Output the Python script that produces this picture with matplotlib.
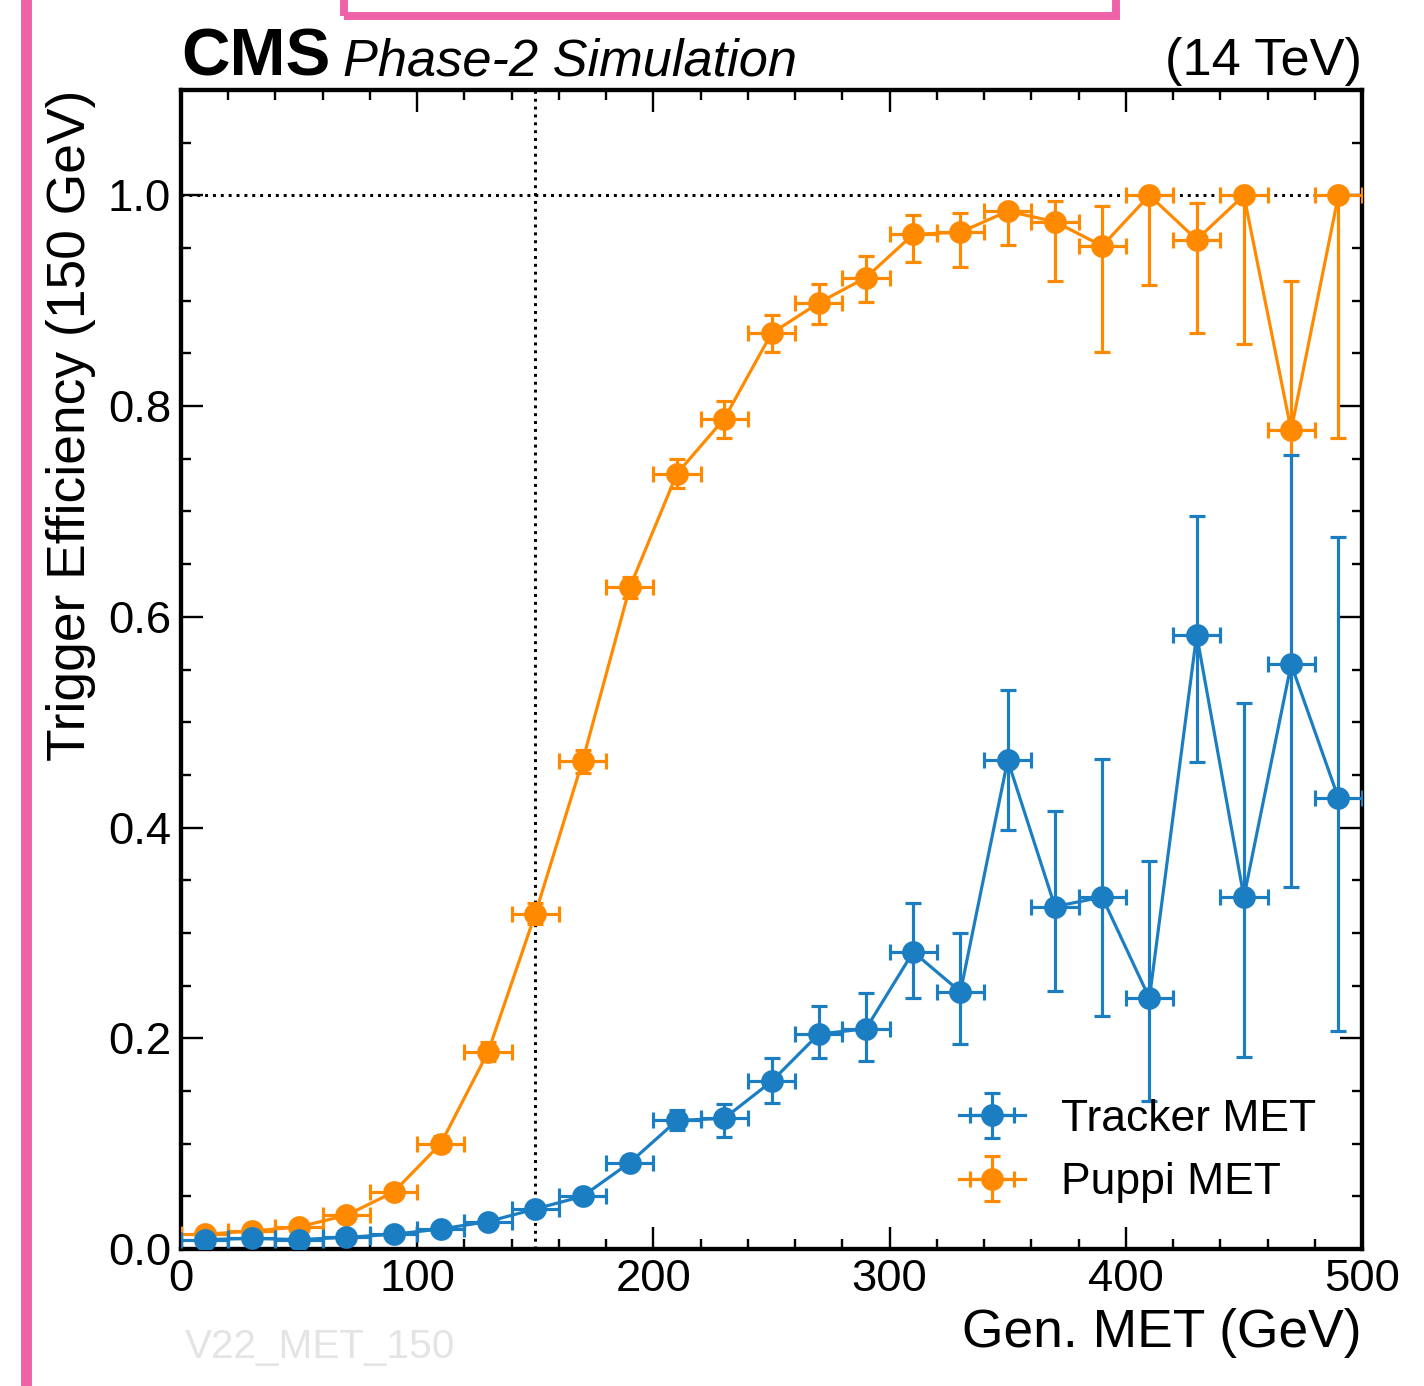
import matplotlib
matplotlib.use("Agg")
import matplotlib.pyplot as plt
from matplotlib.patches import Rectangle
from matplotlib.lines import Line2D
from matplotlib.ticker import MultipleLocator
import numpy as np

# bin centres of Gen. MET (GeV), 20 GeV bins
met_bins = [10, 30, 50, 70, 90, 110, 130, 150, 170, 190, 210, 230, 250,
            270, 290, 310, 330, 350, 370, 390, 410, 430, 450, 470, 490]
bin_halfwidth = 10

puppi_eff = [0.014, 0.017, 0.021, 0.032, 0.054, 0.100, 0.187, 0.318, 0.463,
             0.628, 0.736, 0.788, 0.869, 0.898, 0.922, 0.963, 0.965, 0.985,
             0.975, 0.952, 1.0, 0.958, 1.0, 0.777, 1.0]
puppi_lo = [0.002, 0.002, 0.003, 0.004, 0.005, 0.007, 0.009, 0.010, 0.011,
            0.010, 0.014, 0.018, 0.018, 0.020, 0.023, 0.026, 0.033, 0.032,
            0.056, 0.101, 0.085, 0.089, 0.141, 0.217, 0.230]
puppi_hi = [0.002, 0.002, 0.003, 0.004, 0.005, 0.007, 0.009, 0.010, 0.011,
            0.010, 0.014, 0.017, 0.017, 0.018, 0.020, 0.018, 0.018, 0.006,
            0.020, 0.038, 0.0, 0.035, 0.0, 0.142, 0.0]

tracker_eff = [0.009, 0.010, 0.009, 0.011, 0.014, 0.019, 0.026, 0.038, 0.050,
               0.082, 0.122, 0.124, 0.159, 0.204, 0.209, 0.282, 0.244, 0.464,
               0.325, 0.334, 0.238, 0.583, 0.334, 0.555, 0.428]
tracker_lo = [0.001, 0.001, 0.001, 0.002, 0.002, 0.003, 0.003, 0.004, 0.005,
              0.006, 0.009, 0.018, 0.020, 0.023, 0.031, 0.044, 0.049, 0.066,
              0.080, 0.113, 0.098, 0.121, 0.152, 0.211, 0.221]
tracker_hi = [0.001, 0.001, 0.001, 0.002, 0.002, 0.003, 0.003, 0.004, 0.005,
              0.006, 0.010, 0.014, 0.022, 0.027, 0.034, 0.046, 0.056, 0.067,
              0.091, 0.131, 0.130, 0.113, 0.184, 0.199, 0.248]

threshold = 150
blue = "#1b7ec2"
orange = "#ff8a00"

plt.rcParams["font.family"] = ["Liberation Sans", "DejaVu Sans"]

fig = plt.figure(figsize=(10, 1386 / 142.4), dpi=142.4)
ax = fig.add_axes([181 / 1424, 1 - 1249 / 1386, (1362 - 181) / 1424, (1249 - 90) / 1386])

common = dict(fmt="-o", markersize=10.5, linewidth=1.6, elinewidth=1.6,
              capsize=4, capthick=1.6)
hp = ax.errorbar(met_bins, puppi_eff, xerr=bin_halfwidth,
                 yerr=[puppi_lo, puppi_hi], color=orange, zorder=3, **common)
ht = ax.errorbar(met_bins, tracker_eff, xerr=bin_halfwidth,
                 yerr=[tracker_lo, tracker_hi], color=blue, zorder=4, **common)

ax.axhline(1.0, color="black", linestyle=":", linewidth=1.5, zorder=2)
ax.axvline(threshold, color="black", linestyle=":", linewidth=1.5, zorder=2)

ax.set_xlim(0, 500)
ax.set_ylim(0, 1.1)
ax.xaxis.set_major_locator(MultipleLocator(100))
ax.xaxis.set_minor_locator(MultipleLocator(20))
ax.yaxis.set_major_locator(MultipleLocator(0.2))
ax.yaxis.set_minor_locator(MultipleLocator(0.05))
ax.yaxis.set_major_formatter(matplotlib.ticker.FormatStrFormatter("%.1f"))
ax.tick_params(which="both", direction="in", top=True, right=True,
               labelsize=23, width=1.2)
ax.tick_params(which="major", length=11, pad=5)
ax.tick_params(which="minor", length=5)
for s in ax.spines.values():
    s.set_linewidth(2.2)

ax.set_xlabel("Gen. MET (GeV)", fontsize=27, loc="right", labelpad=4)
ax.set_ylabel("Trigger Efficiency (150 GeV)", fontsize=27, loc="top", labelpad=6)

ax.legend([ht, hp], ["Tracker MET", "Puppi MET"], loc="lower right",
          fontsize=22.5, frameon=False, bbox_to_anchor=(0.995, 0.005),
          handlelength=1.5, handletextpad=0.8, labelspacing=0.5)

ybase = (1249 - 75) / 1159
ax.text(0.0, ybase, "CMS", transform=ax.transAxes, fontsize=34,
        fontweight="bold", ha="left", va="baseline")
ax.text(0.137, ybase, "Phase-2 Simulation", transform=ax.transAxes,
        fontsize=26.5, style="italic", ha="left", va="baseline")
ax.text(1.0, ybase, "(14 TeV)", transform=ax.transAxes, fontsize=26.5,
        ha="right", va="baseline")
fig.text(185 / 1424, 1 - 1366 / 1386, "V22_MET_150", fontsize=20.5,
         color="#e4e4e4", ha="left", va="bottom")

# pink frame decorations
pink = "#ef62a8"
fig.add_artist(Line2D([26 / 1424, 26 / 1424], [0, 1], color=pink,
                      linewidth=5.5, transform=fig.transFigure))
fig.add_artist(Rectangle((344 / 1424, 1 - 16 / 1386), (1116 - 344) / 1424, 40 / 1386,
                         fill=False, edgecolor=pink, linewidth=4,
                         transform=fig.transFigure, clip_on=False))

fig.savefig("out.png", dpi=142.4)
